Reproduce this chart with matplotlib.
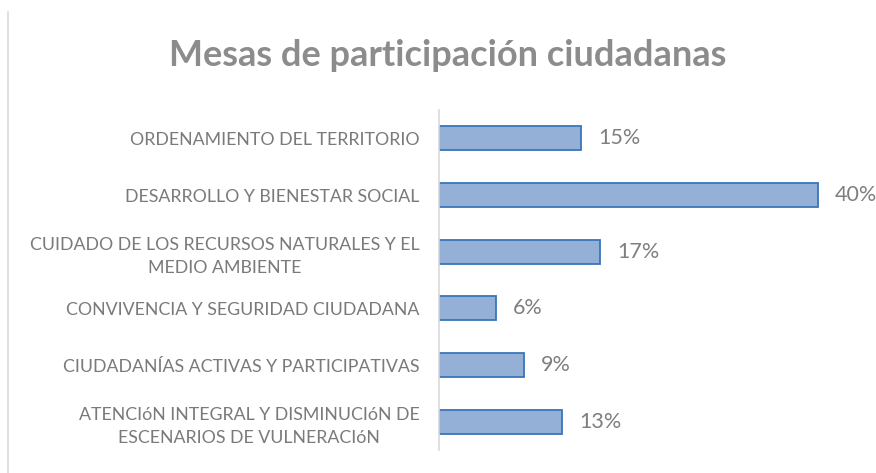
import matplotlib.pyplot as plt
from matplotlib.lines import Line2D

categories = [
    "ORDENAMIENTO DEL TERRITORIO",
    "DESARROLLO Y BIENESTAR SOCIAL",
    "CUIDADO DE LOS RECURSOS NATURALES Y EL\nMEDIO AMBIENTE",
    "CONVIVENCIA Y SEGURIDAD CIUDADANA",
    "CIUDADANÍAS ACTIVAS Y PARTICIPATIVAS",
    "ATENCIóN INTEGRAL Y DISMINUCIóN DE\nESCENARIOS DE VULNERACIóN",
]
values = [15, 40, 17, 6, 9, 13]

plt.rcParams['font.family'] = ['Lato', 'DejaVu Sans']

fig = plt.figure(figsize=(8.76, 4.73), dpi=100)
ax = fig.add_axes([439 / 876, 1 - 450 / 473, (862 - 439) / 876, (450 - 110) / 473])

ypos = list(range(len(categories)))
ax.barh(ypos, values, height=0.42, color="#95b0d6", edgecolor="#3a75bb", linewidth=1.3)

for y, v in zip(ypos, values):
    ax.text(v + 1.8, y, f"{v}%", va="center", ha="left", fontsize=15.5, color="#7f7f7f")

ax.set_ylim(5.5, -0.5)
ax.set_xlim(0, 44.7)
ax.set_yticks(ypos)
ax.set_yticklabels(categories, fontsize=12.8, color="#7a7a7a", multialignment="center",
                   linespacing=1.5)
ax.tick_params(axis="y", length=0, pad=14)
ax.set_xticks([])
for side in ["top", "right", "bottom"]:
    ax.spines[side].set_visible(False)
ax.spines["left"].set_color("#d9d9d9")
ax.spines["left"].set_linewidth(1.2)

fig.text(448 / 876, 1 - 56 / 473, "Mesas de participación ciudadanas",
         ha="center", va="center", fontsize=26, fontweight="bold", color="#8c8c8c")

fig.add_artist(Line2D([8 / 876, 8 / 876], [0, 1 - 12 / 473], transform=fig.transFigure,
                      color="#d9d9d9", linewidth=1.2))

fig.savefig("out.png", dpi=100)
